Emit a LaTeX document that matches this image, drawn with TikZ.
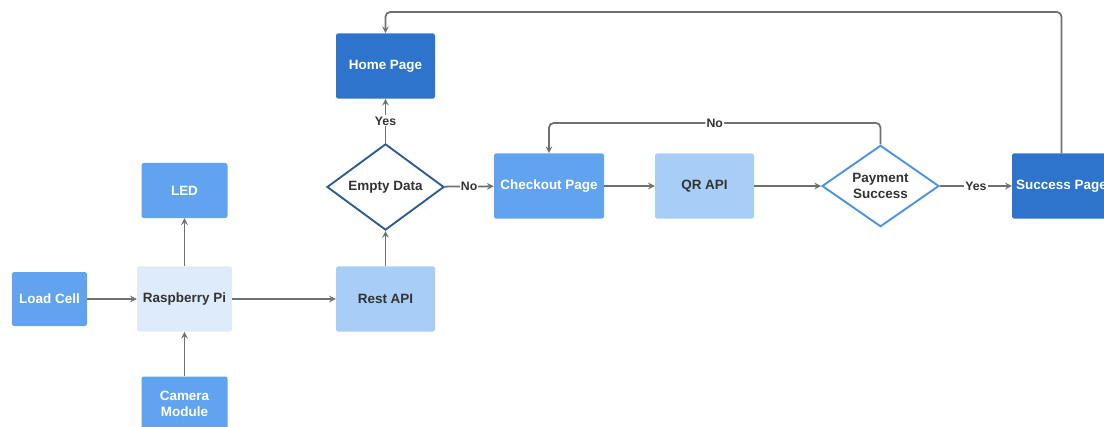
\documentclass[tikz,border=0pt]{standalone}
\usepackage{fontspec}
\setmainfont{Liberation Sans}
\usetikzlibrary{shapes.geometric}
\definecolor{midblue}{RGB}{98,163,240}
\definecolor{lightblue}{RGB}{168,206,248}
\definecolor{paleblue}{RGB}{221,235,251}
\definecolor{darkblue}{RGB}{46,116,204}
\definecolor{navy}{RGB}{43,92,147}
\definecolor{rimblue}{RGB}{75,147,224}
\definecolor{ink}{RGB}{51,51,51}
\definecolor{wire}{RGB}{112,112,112}
\begin{document}
\begin{tikzpicture}[x=0.03cm,y=-0.03cm,>=stealth,
    font=\bfseries\fontsize{11.5}{13.5}\selectfont,
    box/.style={rounded corners=2pt,align=center,inner sep=0pt,
        minimum width=2.97cm,minimum height=1.96cm},
    decision/.style={diamond,draw,line width=1.6pt,fill=white,text=ink,
        align=center,inner sep=0pt,minimum width=3.51cm,minimum height=2.34cm},
    wiring/.style={->,wire,line width=1.5pt},
    lbl/.style={fill=white,inner sep=1pt,text=ink,font=\bfseries\fontsize{10.5}{12}\selectfont}]
    \clip (0,0) rectangle (1104,427);

    % sensor side
    \node[box,fill=midblue,text=white,minimum width=2.25cm,minimum height=1.62cm]
        (load) at (49.5,299) {Load Cell};
    \node[box,fill=paleblue,text=ink,minimum width=2.85cm]
        (rpi) at (184.5,299) {Raspberry Pi};
    \node[box,fill=midblue,text=white,minimum width=2.58cm,minimum height=1.65cm]
        (led) at (184.5,190.5) {LED};
    \node[box,fill=midblue,text=white,minimum width=2.58cm,minimum height=1.65cm]
        (cam) at (184.5,404) {Camera\\Module};
    \node[box,fill=lightblue,text=ink] (rest) at (385.5,299) {Rest API};

    % web side
    \node[decision,draw=navy] (empty) at (385.5,187) {Empty Data};
    \node[box,fill=darkblue,text=white] (home) at (385.5,66) {Home Page};
    \node[box,fill=midblue,text=white,minimum width=3.3cm]
        (checkout) at (549,186) {Checkout Page};
    \node[box,fill=lightblue,text=ink] (qr) at (704.5,186) {QR API};
    \node[decision,draw=rimblue] (pay) at (880.5,186) {Payment\\Success};
    \node[box,fill=darkblue,text=white] (success) at (1061.5,186) {Success Page};

    \draw[wiring] (load) -- (rpi);
    \draw[wiring] (rpi) -- (led);
    \draw[wiring] (cam) -- (rpi);
    \draw[wiring] (rpi) -- (rest);
    \draw[wiring] (rest) -- (empty);
    \draw[wiring] (empty) -- node[lbl] {Yes} (home);
    \draw[wiring] (empty) -- node[lbl] {No} (checkout);
    \draw[wiring] (checkout) -- (qr);
    \draw[wiring] (qr) -- (pay);
    \draw[wiring] (pay) -- node[lbl] {Yes} (success);
    \draw[wiring,rounded corners=4pt] (pay.north) -- (pay.north |- 0,123)
        -| node[lbl,pos=0.25] {No} (checkout.north);
    \draw[wiring,rounded corners=4pt] (success.north) -- (success.north |- 0,12)
        -| (home.north);
\end{tikzpicture}
\end{document}
